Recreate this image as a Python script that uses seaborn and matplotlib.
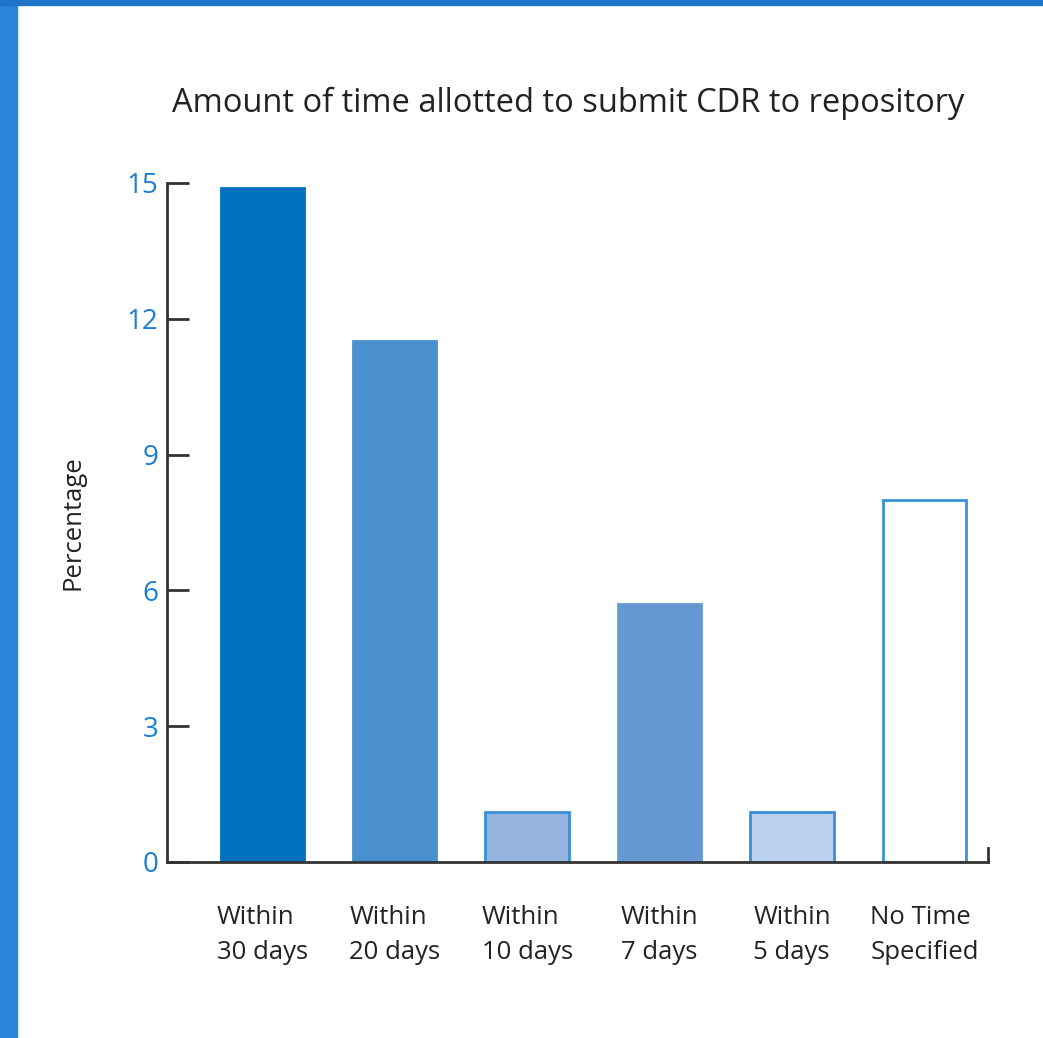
import matplotlib
matplotlib.use("Agg")
import matplotlib.pyplot as plt
import seaborn as sns
import pandas as pd
from matplotlib.patches import Rectangle

categories = ["Within\n30 days", "Within\n20 days", "Within\n10 days",
              "Within\n7 days", "Within\n5 days", "No Time\nSpecified"]
percent = [14.9, 11.5, 1.1, 5.7, 1.1, 8.0]
fills = ["#0070c0", "#4a8fce", "#95b5de", "#6499d4", "#bcd0ef", "#ffffff"]
edges = ["#0070c0", "#4a8fce", "#3a8fd6", "#6499d4", "#3a8fd6", "#3a93d8"]

sns.set_style("white")
plt.rcParams["font.family"] = ["Open Sans", "DejaVu Sans"]

df = pd.DataFrame({"cat": categories, "pct": percent})

fig = plt.figure(figsize=(10.43, 10.38), dpi=100)
ax = fig.add_axes([0.1601, 0.1696, 0.7872, 0.6541])

sns.barplot(data=df, x="cat", y="pct", hue="cat", palette=fills,
            saturation=1, legend=False, width=0.63, ax=ax, linewidth=0)
for patch, ec in zip(ax.patches, edges):
    patch.set_edgecolor(ec)
    patch.set_linewidth(2)

ax.set_xlim(-0.72, 5.48)
ax.set_ylim(0, 15)
ax.set_yticks([0, 3, 6, 9, 12, 15])
ax.set_xlabel("")
ax.set_ylabel("Percentage", fontsize=18.5, color="#222222", labelpad=30)

ax.spines["top"].set_visible(False)
for s in ["left", "bottom", "right"]:
    ax.spines[s].set_color("#333333")
    ax.spines[s].set_linewidth(2)
ax.spines["right"].set_bounds(0, 0.3)

ax.tick_params(axis="y", left=True, direction="in", length=16, width=2,
               color="#333333", labelcolor="#1a7fd0", labelsize=20, pad=6)
ax.tick_params(axis="x", bottom=False, length=0, labelsize=18.5,
               labelcolor="#222222", pad=31)
for lbl in ax.get_xticklabels():
    lbl.set_multialignment("left")
    lbl.set_linespacing(1.5)

fig.text(0.545, 0.9, "Amount of time allotted to submit CDR to repository",
         ha="center", va="center", fontsize=23.5, color="#222222")

# blue page border
fig.patches.append(Rectangle((0, 0), 17 / 1043, 1, transform=fig.transFigure,
                             color="#2a86d9", zorder=0))
fig.patches.append(Rectangle((0, 1 - 5 / 1038), 1, 5 / 1038,
                             transform=fig.transFigure, color="#1e74c9", zorder=0))

fig.savefig("out.png", dpi=100)
